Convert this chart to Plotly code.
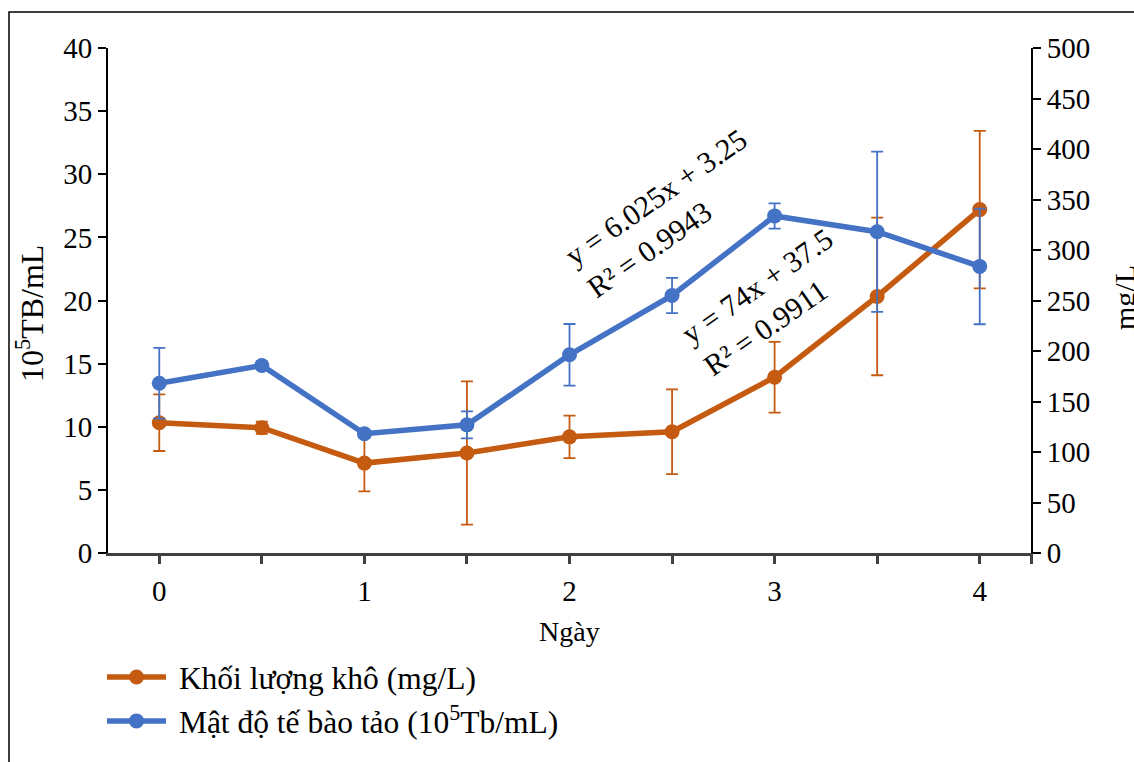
import plotly.graph_objects as go

# Sampling days
days = [0, 0.5, 1, 1.5, 2, 2.5, 3, 3.5, 4]

# Dry weight (mg/L) with standard deviation
dry_weight = [129, 124, 89, 99, 115, 120, 174, 254, 340]
dry_weight_sd = [28, 6, 28, 71, 21, 42, 35, 78, 78]

# Algal cell density (10^5 cells/mL) with standard deviation
cell_density = [13.45, 14.85, 9.45, 10.15, 15.7, 20.4, 26.7, 25.45, 22.7]
cell_density_sd = [2.8, 0.3, 0.3, 1.07, 2.44, 1.4, 1.0, 6.35, 4.58]

x_ticks = [0, 0.5, 1, 1.5, 2, 2.5, 3, 3.5, 4, 4.25]
x_tick_text = ["0", "", "1", "", "2", "", "3", "", "4", ""]

ORANGE = "#C55A11"
BLUE = "#4472C4"
FONT = "Liberation Serif"
GAP = "\u00a0"  # extra space between legend symbol and label

W, H = 1134, 762
L, R, T, B = 108, 103, 48, 209
PW, PH = W - L - R, H - T - B


def px_x(px):
    return (px - L) / PW


def px_y(py):
    return (H - B - py) / PH


fig = go.Figure()

fig.add_trace(go.Scatter(
    x=days, y=dry_weight, yaxis="y", name=GAP + "Khối lượng khô (mg/L)",
    mode="lines+markers",
    line=dict(color=ORANGE, width=5.5),
    marker=dict(color=ORANGE, size=15),
    error_y=dict(type="data", array=dry_weight_sd, color=ORANGE,
                 thickness=1.8, width=6),
))

fig.add_trace(go.Scatter(
    x=days, y=cell_density, yaxis="y2",
    name=GAP + "Mật độ tế bào tảo (10<sup>5</sup>Tb/mL)",
    mode="lines+markers",
    line=dict(color=BLUE, width=5.5),
    marker=dict(color=BLUE, size=15),
    error_y=dict(type="data", array=cell_density_sd, color=BLUE,
                 thickness=1.8, width=6),
))

tick_font = dict(family=FONT, size=29, color="black")

fig.update_layout(
    width=W, height=H,
    margin=dict(l=L, r=R, t=T, b=B, autoexpand=False),
    paper_bgcolor="white", plot_bgcolor="white",
    font=dict(family=FONT, size=28, color="black"),
    showlegend=True,
    legend=dict(
        x=px_x(102), y=px_y(650), xanchor="left", yanchor="top",
        font=dict(family=FONT, size=31.5, color="black"),
        itemwidth=59, tracegroupgap=0, bgcolor="rgba(0,0,0,0)",
    ),
    xaxis=dict(
        range=[-0.25, 4.25], tickmode="array", tickvals=x_ticks, ticktext=x_tick_text,
        showgrid=False, zeroline=False, showline=True, linecolor="#404040", linewidth=3,
        ticks="outside", ticklen=8, tickwidth=3, tickcolor="#404040",
        tickfont=tick_font, ticklabelstandoff=2,
    ),
    yaxis=dict(
        side="right", range=[0, 500], dtick=50, tick0=0,
        showgrid=False, zeroline=False, showline=True, linecolor="black", linewidth=2,
        ticks="outside", ticklen=8, tickwidth=2, tickcolor="black",
        tickfont=tick_font,
    ),
    yaxis2=dict(
        overlaying="y", side="left", range=[0, 40], dtick=5, tick0=0,
        showgrid=False, zeroline=False, showline=True, linecolor="black", linewidth=2,
        ticks="outside", ticklen=8, tickwidth=2, tickcolor="black",
        tickfont=tick_font,
    ),
)

annotations = [
    dict(text="Ngày", x=px_x(569), y=px_y(631), font=dict(family=FONT, size=28)),
    dict(text="10<sup>5</sup>TB/mL", x=px_x(30), y=px_y(314), textangle=-90,
         font=dict(family=FONT, size=32)),
    dict(text="mg/L", x=px_x(1124), y=px_y(298), textangle=-90,
         font=dict(family=FONT, size=30)),
    dict(text="y = 6.025x + 3.25<br>R² = 0.9943", x=px_x(667), y=px_y(213),
         textangle=-35, align="left", font=dict(family=FONT, size=30)),
    dict(text="y = 74x + 37.5<br>R² = 0.9911", x=px_x(768), y=px_y(302),
         textangle=-35, align="left", font=dict(family=FONT, size=30)),
]
for a in annotations:
    a.update(xref="paper", yref="paper", showarrow=False,
             xanchor="center", yanchor="middle")
    a["font"]["color"] = "black"
fig.update_layout(annotations=annotations)

# Outer frame of the figure
fig.add_shape(type="rect", xref="paper", yref="paper",
              x0=px_x(9), y0=px_y(H + 50), x1=px_x(W + 50), y1=px_y(12),
              line=dict(color="black", width=1.5), fillcolor="rgba(0,0,0,0)",
              layer="below")

fig.write_html("out.html")
